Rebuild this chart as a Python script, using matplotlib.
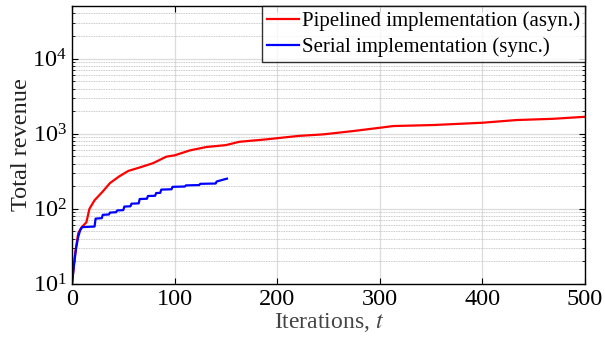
import matplotlib.pyplot as plt
import numpy as np

plt.rcParams['font.family'] = 'Liberation Serif'
plt.rcParams['mathtext.fontset'] = 'stix'

# Pipelined (asyn.) total revenue
t_pipe = [0, 3, 6, 9, 14, 17, 22, 30, 37, 46, 55, 66, 79, 92, 100, 115, 131,
          150, 163, 189, 221, 245, 274, 300, 313, 352, 400, 433, 469, 500]
rev_pipe = [10, 25, 47, 56, 66, 100, 130, 170, 220, 270, 320, 355, 405, 495,
            515, 600, 665, 705, 780, 840, 935, 980, 1085, 1200, 1265, 1305,
            1400, 1520, 1580, 1680]

# Serial (sync.) total revenue, stepwise
t_ser = [0, 2, 4, 6, 8, 10, 22, 23, 29, 30, 36, 37, 43, 44, 50, 51, 57, 58,
         65, 66, 73, 74, 81, 82, 86, 87, 97, 98, 110, 111, 124, 125, 140,
         141, 151]
rev_ser = [10, 18, 30, 42, 52, 57, 58, 74, 75, 83, 84, 89, 90, 95, 96, 107,
           108, 117, 118, 135, 136, 148, 149, 162, 163, 180, 182, 196, 198,
           205, 207, 215, 217, 231, 252]

fig, ax = plt.subplots(figsize=(6.05, 3.42), dpi=100)
fig.subplots_adjust(left=0.119, right=0.967, bottom=0.170, top=0.982)

ax.plot(t_pipe, rev_pipe, color='red', lw=1.6, label='Pipelined implementation (asyn.)')
ax.plot(t_ser, rev_ser, color='blue', lw=1.6, label='Serial implementation (sync.)')

ax.set_yscale('log')
ax.set_xlim(0, 500)
ax.set_ylim(10, 5e4)
ax.set_xticks([0, 100, 200, 300, 400, 500])

ax.grid(True, which='major', color='#dcdcdc', lw=0.9, ls='-')
ax.grid(True, which='minor', axis='y', color='#b8b8b8', lw=0.6, ls=(0, (1, 1)))
ax.set_axisbelow(True)

ax.tick_params(which='both', direction='in', top=True, right=True, labelsize=17.5)
ax.tick_params(which='major', length=4)
ax.tick_params(which='minor', length=2.5)
ax.tick_params(axis='x', which='minor', top=False, bottom=False)
for s in ax.spines.values():
    s.set_linewidth(1.0)

ax.set_xlabel('Iterations, $t$', fontsize=17, color='#444444', labelpad=1)
ax.set_ylabel('Total revenue', fontsize=17.5, color='#222222', labelpad=0)

leg = ax.legend(loc='upper right', fontsize=15, frameon=True, fancybox=False,
                borderaxespad=0, handlelength=1.5, handletextpad=0.15,
                borderpad=0.25, labelspacing=0.3)
leg.get_frame().set_edgecolor('black')
leg.get_frame().set_linewidth(1.0)

fig.savefig('out.png', dpi=100)
